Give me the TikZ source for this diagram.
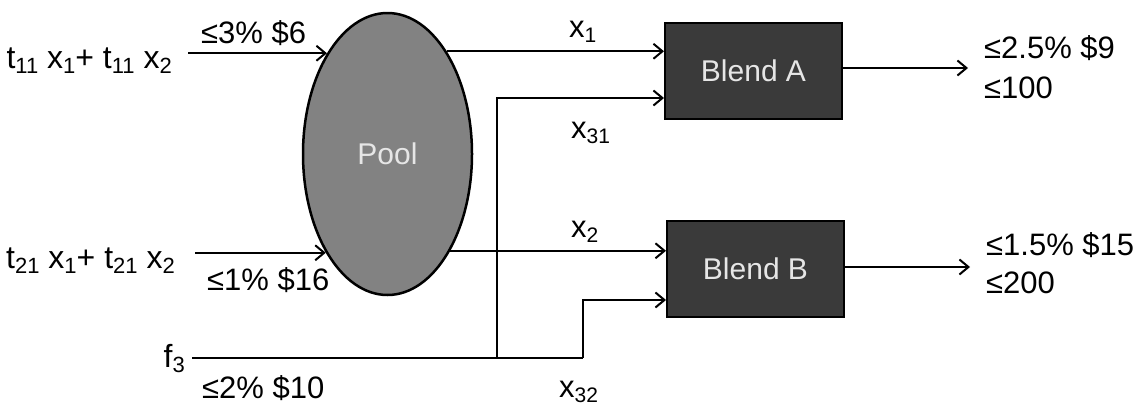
\documentclass[tikz,border=0pt]{standalone}
\usepackage{fontspec}
\setmainfont{Liberation Sans}
\usetikzlibrary{shapes.geometric,arrows.meta}
\newcommand\lsub[2]{\raisebox{-5.5pt}{\fontsize{#1}{#1}\selectfont #2}}
\definecolor{poolgray}{HTML}{828282}
\definecolor{boxgray}{HTML}{3A3A3A}
\definecolor{lighttext}{HTML}{E6E6E6}
\begin{document}
\begin{tikzpicture}[x=1pt,y=-1pt,
  lbl/.style={font=\fontsize{31}{36}\selectfont, inner sep=0pt},
  expr/.style={font=\fontsize{32}{36}\selectfont, inner sep=0pt},
  pool/.style={ellipse, draw=black, line width=2.5pt, fill=poolgray, minimum width=169pt, minimum height=282pt, inner sep=0pt, text=lighttext, font=\fontsize{30}{30}\selectfont},
  blend/.style={rectangle, draw=black, line width=2pt, fill=boxgray, minimum width=177pt, minimum height=96pt, text=lighttext, font=\fontsize{30}{30}\selectfont},
  flow/.style={line width=2pt, -{Straight Barb[length=9pt,width=15pt,line width=2pt]}},
  pipe/.style={line width=2pt}]
\useasboundingbox (0,0) rectangle (1145,405);
% main nodes
\node[pool] (pool) at (387.5,154) {Pool};
\node[blend] (blendA) at (753.5,70.5) {Blend A};
\node[blend] (blendB) at (755.5,268.5) {Blend B};
% inputs
\node[expr, anchor=base east] (in1) at (172,68) {t\lsub{22}{11} x\lsub{22}{1}+ t\lsub{22}{11} x\lsub{22}{2}};
\node[expr, anchor=base east] (in2) at (175,268) {t\lsub{22}{21} x\lsub{22}{1}+ t\lsub{22}{21} x\lsub{22}{2}};
\node[expr, anchor=base east] (f3) at (185,367) {f\lsub{22}{3}};
% junction and end points
\coordinate (j1) at (497,358);
\coordinate (j2) at (583,358);
\coordinate (oA) at (968,68);
\coordinate (oB) at (970,267);
% connectors
\draw[flow] ([xshift=16pt]in1.east |- pool.121.3) -- (pool.121.3);
\draw[flow] ([xshift=20pt]in2.east |- pool.238.7) -- (pool.238.7);
\draw[flow] (pool.60.25) -- (pool.60.25 -| blendA.west);
\draw[flow] (pool.-57.2) -- (pool.-57.2 -| blendB.west);
\draw[pipe] ([xshift=7pt]f3.east |- j1) -- (j2);
\draw[flow] (j1) |- ([yshift=-27.5pt]blendA.west);
\draw[flow] (j2) |- ([yshift=-31.5pt]blendB.west);
\draw[flow] (blendA.east |- oA) -- (oA);
\draw[flow] (blendB.east |- oB) -- (oB);
% labels
\node[lbl, anchor=base west] (c1) at (201,43) {≤3\% \$6};
\node[lbl, anchor=base west] (c2) at (207,290) {≤1\% \$16};
\node[lbl, anchor=base west] (c3) at (202,398) {≤2\% \$10};
\node[lbl, anchor=base west] (lx1) at (569,37) {x\lsub{21}{1}};
\node[lbl, anchor=base west] (lx31) at (571,138) {x\lsub{21}{31}};
\node[lbl, anchor=base west] (lx2) at (571,237) {x\lsub{21}{2}};
\node[lbl, anchor=base west] (lx32) at (559,397) {x\lsub{21}{32}};
\node[lbl, anchor=base west] (rA1) at (984,58) {≤2.5\% \$9};
\node[lbl, anchor=base west] (rA2) at (984,98) {≤100};
\node[lbl, anchor=base west] (rB1) at (986,255) {≤1.5\% \$15};
\node[lbl, anchor=base west] (rB2) at (986,293) {≤200};
\end{tikzpicture}
\end{document}
